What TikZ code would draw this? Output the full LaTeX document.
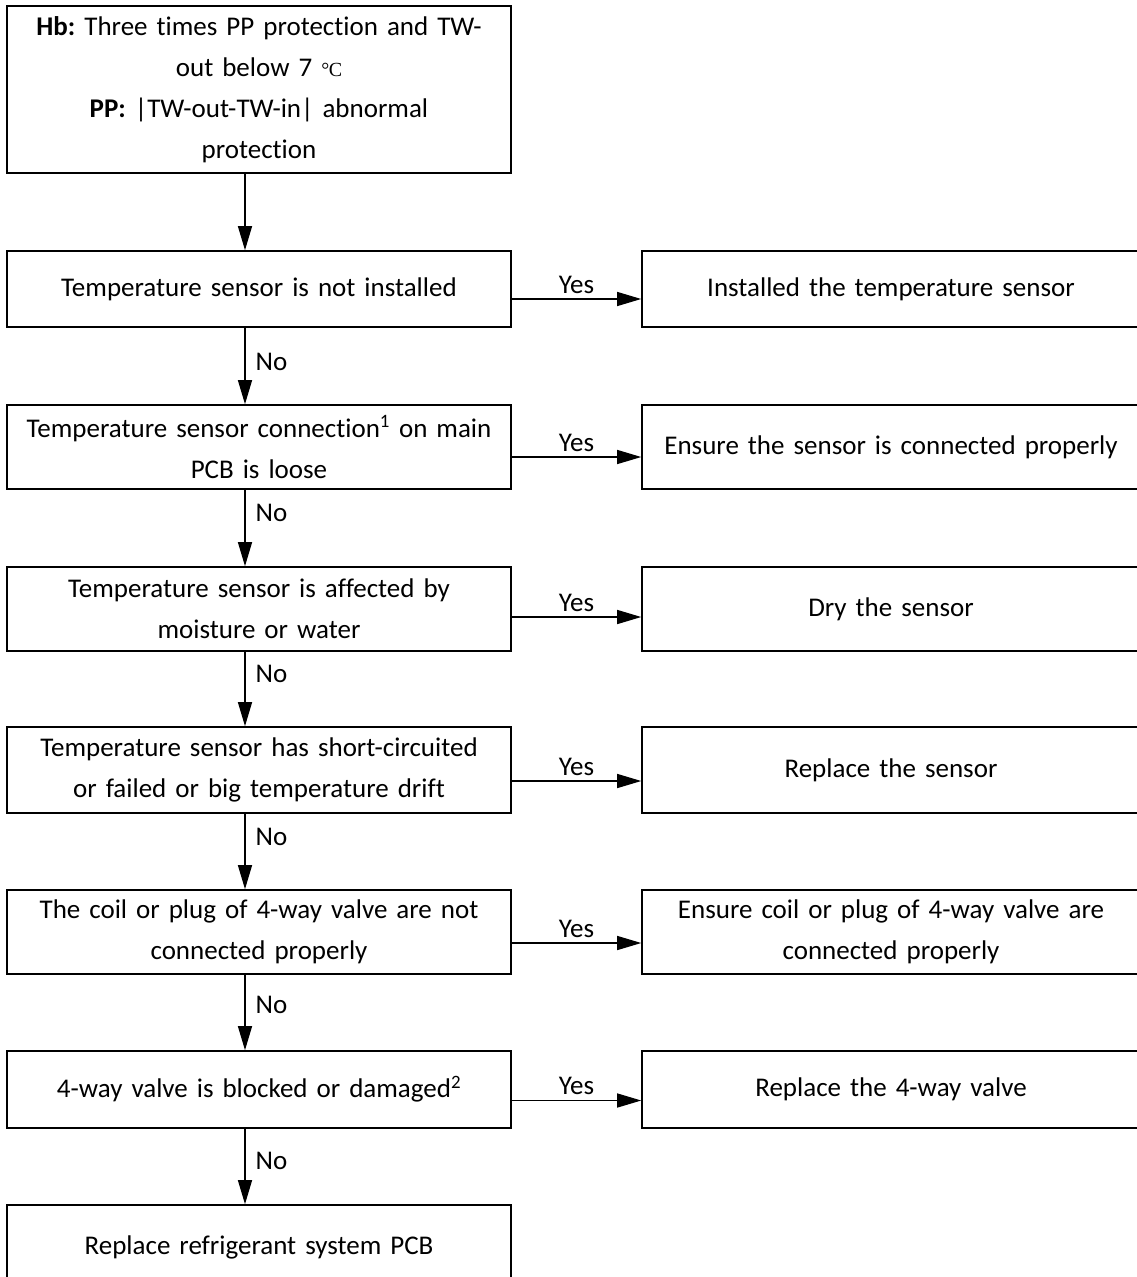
\documentclass[tikz,border=0pt]{standalone}
\usepackage{fontspec}
\setmainfont{Carlito}[Ligatures=NoCommon]
\newfontfamily\degfont{Liberation Serif}
\usetikzlibrary{arrows.meta,calc}
\frenchspacing
\begin{document}
\begin{tikzpicture}[x=1pt,y=-1pt,
  box/.style={draw,line width=1.6pt,align=center,inner sep=0pt,font=\fontsize{27}{41}\selectfont},
  lbox/.style={box,minimum width=504pt,text width=496pt},
  rbox/.style={box,minimum width=498pt,text width=490pt},
  arr/.style={line width=1.3pt,-{Triangle[length=24pt,width=14pt]}},
  lbl/.style={font=\fontsize{27}{30}\selectfont,inner sep=2pt}]
\path[use as bounding box] (0,0) rectangle (1137,1277);
\clip (0,0) rectangle (1137,1277);
\coordinate (ax) at (245,0);
% left column
\node[lbox,minimum height=167pt] (b1) at (259,89.5) {\textbf{Hb:} Three times PP protection and TW-\\out below 7 {\degfont\fontsize{20}{20}\selectfont °\kern-0.5pt C}\\\textbf{PP:} |TW-out-TW-in| abnormal\\protection};
\node[lbox,minimum height=76pt] (b2) at (259,289) {Temperature sensor is not installed};
\node[lbox,minimum height=84pt] (b3) at (259,447) {Temperature sensor connection\textsuperscript{1} on main\\PCB is loose};
\node[lbox,minimum height=84pt] (b4) at (259,609) {Temperature sensor is affected by\\moisture or water};
\node[lbox,minimum height=86pt] (b5) at (259,770) {Temperature sensor has short-circuited\\or failed or big temperature drift};
\node[lbox,minimum height=84pt] (b6) at (259,932) {The coil or plug of 4-way valve are not\\connected properly};
\node[lbox,minimum height=77pt] (b7) at (259,1089.5) {4-way valve is blocked or damaged\textsuperscript{2}};
\node[lbox,minimum height=84pt] (b8) at (259,1247) {Replace refrigerant system PCB};
% right column
\node[rbox,minimum height=76pt] (r2) at (891,289) {Installed the temperature sensor};
\node[rbox,minimum height=84pt] (r3) at (891,447) {Ensure the sensor is connected properly};
\node[rbox,minimum height=84pt] (r4) at (891,609) {Dry the sensor};
\node[rbox,minimum height=86pt] (r5) at (891,770) {Replace the sensor};
\node[rbox,minimum height=84pt] (r6) at (891,932) {Ensure coil or plug of 4-way valve are\\connected properly};
\node[rbox,minimum height=77pt] (r7) at (891,1089.5) {Replace the 4-way valve};
% vertical connectors
\draw[arr] (b1.south -| ax) -- (b2.north -| ax);
\draw[arr] (b2.south -| ax) -- node[lbl,right,pos=0.45,xshift=8pt]{No} (b3.north -| ax);
\draw[arr] (b3.south -| ax) -- node[lbl,right,pos=0.3,xshift=8pt]{No} (b4.north -| ax);
\draw[arr] (b4.south -| ax) -- node[lbl,right,pos=0.3,xshift=8pt]{No} (b5.north -| ax);
\draw[arr] (b5.south -| ax) -- node[lbl,right,pos=0.3,xshift=8pt]{No} (b6.north -| ax);
\draw[arr] (b6.south -| ax) -- node[lbl,right,pos=0.4,xshift=8pt]{No} (b7.north -| ax);
\draw[arr] (b7.south -| ax) -- node[lbl,right,pos=0.42,xshift=8pt]{No} (b8.north -| ax);
% horizontal connectors
\draw[arr] ($(b2.east)+(0,10)$) -- node[lbl,above=3pt]{Yes} ($(r2.west)+(0,10)$);
\draw[arr] ($(b3.east)+(0,10)$) -- node[lbl,above=3pt]{Yes} ($(r3.west)+(0,10)$);
\draw[arr] ($(b4.east)+(0,8)$) -- node[lbl,above=3pt]{Yes} ($(r4.west)+(0,8)$);
\draw[arr] ($(b5.east)+(0,11)$) -- node[lbl,above=3pt]{Yes} ($(r5.west)+(0,11)$);
\draw[arr] ($(b6.east)+(0,11)$) -- node[lbl,above=3pt]{Yes} ($(r6.west)+(0,11)$);
\draw[arr] ($(b7.east)+(0,11)$) -- node[lbl,above=3pt]{Yes} ($(r7.west)+(0,11)$);
\end{tikzpicture}
\end{document}
